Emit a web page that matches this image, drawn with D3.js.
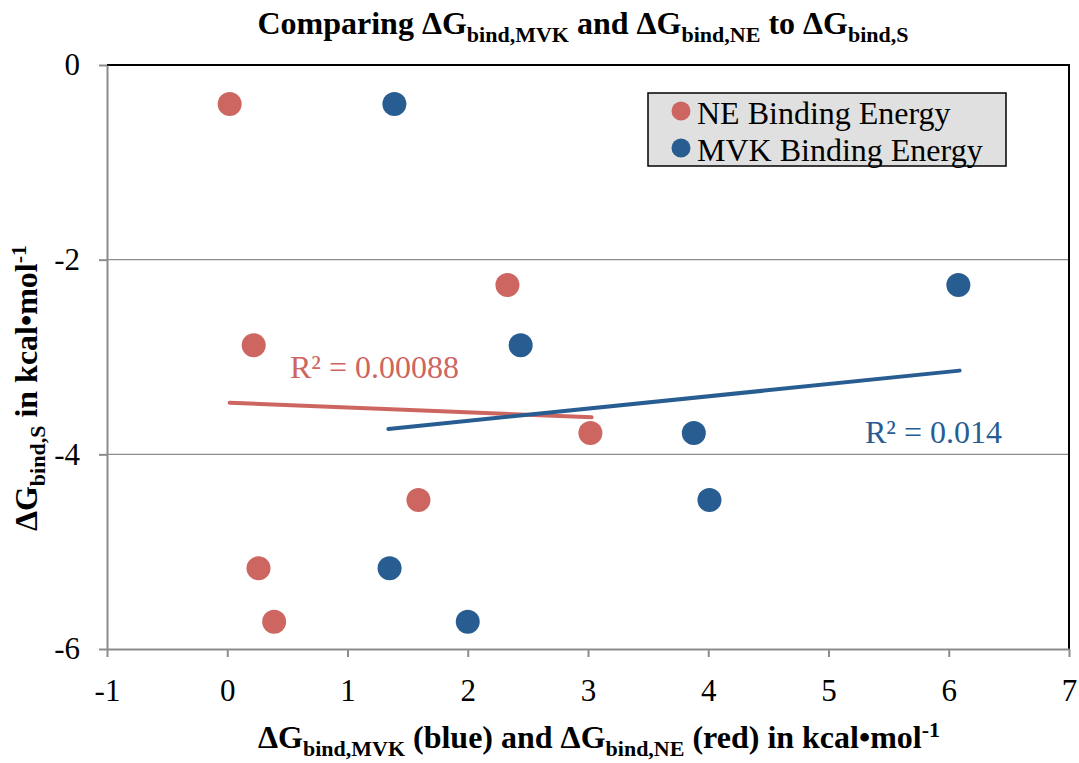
<!DOCTYPE html>
<html>
<head>
<meta charset="utf-8">
<script src="https://cdn.jsdelivr.net/npm/d3@7"></script>
<style>
  body { margin: 0; background: #fff; }
  svg text { font-family: "Liberation Serif", "Times New Roman", serif; }
</style>
</head>
<body>
<script>
// data
var ne_x = [0.02, 0.22, 2.33, 3.02, 1.59, 0.26, 0.39]
var ne_y = [-0.40, -2.88, -2.26, -3.78, -4.47, -5.17, -5.72]
var mvk_x = [1.39, 6.08, 2.44, 3.88, 4.01, 1.35, 2.00]
var mvk_y = [-0.40, -2.26, -2.88, -3.78, -4.47, -5.17, -5.72]
// trendline ends [x0, y0, x1, y1]
var ne_trend = [0.02, -3.47, 3.03, -3.62]
var mvk_trend = [1.34, -3.74, 6.09, -3.14]
var ne_r2 = "R² = 0.00088"
var mvk_r2 = "R² = 0.014"
var x_ticks = [-1, 0, 1, 2, 3, 4, 5, 6, 7]
var y_ticks = [0, -2, -4, -6]
var legend_names = ["NE Binding Energy", "MVK Binding Energy"]

svg_w = 1079
svg_h = 763
var red = "#cd6660"
var blue = "#285d91"
var grey = "#8c8c8c"

var m = {left: 107, right: 10, top: 65, bottom: 114}

var svg = d3.select("body").append("svg")
        .attr("width", svg_w).attr("height", svg_h)

var xscale = d3.scaleLinear().domain([-1, 7]).range([m.left, svg_w - m.right])
var yscale = d3.scaleLinear().domain([-6, 0]).range([svg_h - m.bottom, m.top])

// gridlines
svg.selectAll("line.grid")
   .data(y_ticks.filter(d => d != 0 && d != -6))
   .enter().append("line")
   .attr("x1", xscale(-1)).attr("x2", xscale(7))
   .attr("y1", d => yscale(d)).attr("y2", d => yscale(d))
   .attr("stroke", grey).attr("stroke-width", 1.3)

// top and right frame
svg.append("path")
   .attr("d", "M" + xscale(-1) + "," + yscale(0) + " H" + xscale(7) + " V" + yscale(-6))
   .attr("fill", "none").attr("stroke", "#000").attr("stroke-width", 2)

// axes
var fmt = d => String(d)
var xAxis = svg.append("g")
   .attr("transform", "translate(0," + yscale(-6) + ")")
   .call(d3.axisBottom(xscale).tickValues(x_ticks).tickFormat(fmt).tickSize(8).tickPadding(22).tickSizeOuter(0))
var yAxis = svg.append("g")
   .attr("transform", "translate(" + xscale(-1) + ",0)")
   .call(d3.axisLeft(yscale).tickValues(y_ticks).tickFormat(fmt).tickSize(8).tickPadding(19).tickSizeOuter(0))

;[xAxis, yAxis].forEach(a => {
    a.attr("font-family", null)
    a.select(".domain").attr("stroke", grey).attr("stroke-width", 2)
    a.selectAll(".tick line").attr("stroke", grey).attr("stroke-width", 2)
    a.selectAll(".tick text").attr("fill", "#000").attr("font-size", 31)
})

// trendlines
var trends = [[ne_trend, red], [mvk_trend, blue]]
svg.selectAll("line.trend")
   .data(trends)
   .enter().append("line")
   .attr("x1", d => xscale(d[0][0])).attr("y1", d => yscale(d[0][1]))
   .attr("x2", d => xscale(d[0][2])).attr("y2", d => yscale(d[0][3]))
   .attr("stroke", d => d[1]).attr("stroke-width", 4)
   .attr("stroke-linecap", "round")

// points
var pts = []
for (let i = 0; i < ne_x.length; i++) pts.push({x: ne_x[i], y: ne_y[i], c: red})
for (let i = 0; i < mvk_x.length; i++) pts.push({x: mvk_x[i], y: mvk_y[i], c: blue})
svg.selectAll("circle.pt")
   .data(pts)
   .enter().append("circle")
   .attr("cx", d => xscale(d.x)).attr("cy", d => yscale(d.y))
   .attr("r", 12).attr("fill", d => d.c)

// R^2 labels
svg.append("text").attr("x", 290).attr("y", 378).attr("font-size", 32)
   .attr("fill", red).text(ne_r2)
svg.append("text").attr("x", 865).attr("y", 443).attr("font-size", 32)
   .attr("fill", blue).text(mvk_r2)

// legend
var lg = svg.append("g")
lg.append("rect").attr("x", 648).attr("y", 93).attr("width", 358).attr("height", 73)
  .attr("fill", "#e0e0e0").attr("stroke", "#000").attr("stroke-width", 1.5)
lg.selectAll("circle")
  .data(legend_names).enter().append("circle")
  .attr("cx", 681).attr("cy", (d, i) => 111 + i * 37)
  .attr("r", 9.5).attr("fill", (d, i) => i == 0 ? red : blue)
lg.selectAll("text")
  .data(legend_names).enter().append("text")
  .attr("x", 697).attr("y", (d, i) => 124 + i * 37)
  .attr("font-size", 32).attr("fill", "#000").text(d => d)

// title
var t = svg.append("text").attr("x", 583).attr("y", 34).attr("text-anchor", "middle")
   .attr("font-size", 32).attr("font-weight", "bold")
t.append("tspan").text("Comparing ΔG")
t.append("tspan").attr("font-size", 22).attr("dy", 8).text("bind,MVK")
t.append("tspan").attr("dy", -8).text(" and ΔG")
t.append("tspan").attr("font-size", 22).attr("dy", 8).text("bind,NE")
t.append("tspan").attr("dy", -8).text(" to ΔG")
t.append("tspan").attr("font-size", 22).attr("dy", 8).text("bind,S")

// x label
var xl = svg.append("text").attr("x", 599).attr("y", 748).attr("text-anchor", "middle")
   .attr("font-size", 32).attr("font-weight", "bold")
xl.append("tspan").text("ΔG")
xl.append("tspan").attr("font-size", 22).attr("dy", 8).text("bind,MVK")
xl.append("tspan").attr("dy", -8).text(" (blue) and ΔG")
xl.append("tspan").attr("font-size", 22).attr("dy", 8).text("bind,NE")
xl.append("tspan").attr("dy", -8).text(" (red) in kcal•mol")
xl.append("tspan").attr("font-size", 22).attr("dy", -11).text("-1")

// y label
var yl = svg.append("text").attr("transform", "translate(37,388) rotate(-90)")
   .attr("text-anchor", "middle").attr("font-size", 32).attr("font-weight", "bold")
yl.append("tspan").text("ΔG")
yl.append("tspan").attr("font-size", 22).attr("dy", 8).text("bind,S")
yl.append("tspan").attr("dy", -8).text(" in kcal•mol")
yl.append("tspan").attr("font-size", 22).attr("dy", -11).text("-1")
</script>
</body>
</html>
